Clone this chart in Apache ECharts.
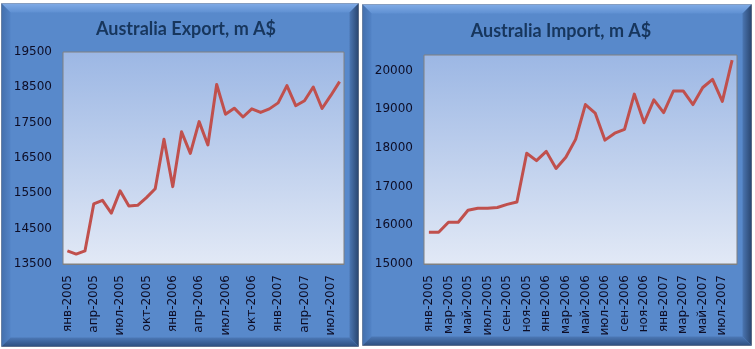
<!DOCTYPE html>
<html>
<head>
<meta charset="utf-8">
<script src="https://cdn.jsdelivr.net/npm/echarts@6/dist/echarts.min.js"></script>
<style>
  html, body { margin: 0; padding: 0; background: #ffffff; }
  #chart { width: 755px; height: 349px; }
</style>
</head>
<body>
<div id="chart"></div>
<script>
// Month abbreviations and the years covered (Jan 2005 – Aug 2007)
const monthNames = ['янв', 'фев', 'мар', 'апр', 'май', 'июн', 'июл', 'авг', 'сен', 'окт', 'ноя', 'дек'];
const years = [2005, 2006, 2007];
const lastMonthOf2007 = 8;

const categories = [];
years.forEach(function (y) {
  const count = y === 2007 ? lastMonthOf2007 : 12;
  for (let m = 0; m < count; m++) categories.push(monthNames[m] + '-' + y);
});

// Monthly exports, m A$
const exportValues = [
  13870, 13780, 13870, 15200, 15300, 14940, 15570, 15140, 15160, 15380, 15630, 17030,
  15690, 17240, 16630, 17530, 16870, 18580, 17740, 17910, 17660, 17890, 17790, 17890,
  18060, 18550, 17980, 18120, 18510, 17900, 18270, 18660
];

// Monthly imports, m A$
const importValues = [
  15820, 15820, 16080, 16080, 16390, 16440, 16440, 16460, 16540, 16600, 17860, 17670,
  17910, 17470, 17760, 18220, 19120, 18900, 18200, 18380, 18480, 19390, 18650, 19240,
  18910, 19470, 19470, 19120, 19560, 19770, 19200, 20270
];

// Axis tick settings (the import axis runs a little past its last labelled tick)
const exportTicks = { min: 13500, max: 19500, step: 1000 };
const importTicks = { min: 15000, max: 20400, step: 1000 };

const titles = ['Australia Export, m A$', 'Australia Import, m A$'];

// Bevelled blue panel behind each chart
function panel(x0, y0, x1, y1, b) {
  const face = '#5889CB';
  return [
    { type: 'rect', z: 0, shape: { x: x0, y: y0, width: x1 - x0, height: y1 - y0 },
      style: { fill: face, stroke: '#8a8f99', lineWidth: 1 } },
    { type: 'polygon', z: 1, shape: { points: [[x0, y0], [x1, y0], [x1 - b, y0 + b], [x0 + b, y0 + b]] },
      style: { fill: new echarts.graphic.LinearGradient(0, 0, 0, 1, [
        { offset: 0, color: '#80abe6' }, { offset: 1, color: '#5f90d2' }]) } },
    { type: 'polygon', z: 1, shape: { points: [[x0, y0], [x0 + b, y0 + b], [x0 + b, y1 - b], [x0, y1]] },
      style: { fill: new echarts.graphic.LinearGradient(0, 0, 1, 0, [
        { offset: 0, color: '#4470ad' }, { offset: 1, color: '#5283c6' }]) } },
    { type: 'polygon', z: 1, shape: { points: [[x1, y0], [x1, y1], [x1 - b, y1 - b], [x1 - b, y0 + b]] },
      style: { fill: new echarts.graphic.LinearGradient(1, 0, 0, 0, [
        { offset: 0, color: '#2a4670' }, { offset: 1, color: '#4b76b2' }]) } },
    { type: 'polygon', z: 1, shape: { points: [[x0, y1], [x1, y1], [x1 - b, y1 - b], [x0 + b, y1 - b]] },
      style: { fill: new echarts.graphic.LinearGradient(0, 1, 0, 0, [
        { offset: 0, color: '#2f5080' }, { offset: 1, color: '#4c78b6' }]) } }
  ];
}

const plotFill = {
  type: 'linear', x: 0, y: 0, x2: 0, y2: 1,
  colorStops: [{ offset: 0, color: '#9cb7e4' }, { offset: 1, color: '#e2e9f6' }]
};

const labelFont = { fontFamily: 'DejaVu Sans', fontSize: 12, color: '#0d0d26' };

function xAxisFor(gridIndex, every) {
  return {
    type: 'category', gridIndex: gridIndex, data: categories, boundaryGap: true,
    axisLine: { show: true, lineStyle: { color: '#808080' } },
    axisTick: { show: false },
    axisLabel: Object.assign({ rotate: 90, interval: every - 1, margin: 11 }, labelFont),
    splitLine: { show: false }
  };
}

function yAxisFor(gridIndex, t) {
  return {
    type: 'value', gridIndex: gridIndex, min: t.min, max: t.max, interval: t.step,
    axisLine: { show: false }, axisTick: { show: false },
    axisLabel: Object.assign({
      margin: 11,
      formatter: function (v) { return (v - t.min) % t.step === 0 ? String(v) : ''; }
    }, labelFont),
    splitLine: { show: true, lineStyle: { color: '#808080', width: 1 } }
  };
}

const chart = echarts.init(document.getElementById('chart'), null, { renderer: 'canvas' });

chart.setOption({
  animation: false,
  backgroundColor: '#ffffff',
  graphic: panel(1.5, 3.5, 358.5, 346.5, 9).concat(panel(362.5, 4.5, 751.5, 345.5, 9)),
  title: [
    { text: titles[0], left: 181, top: 15, textAlign: 'center',
      textStyle: { fontFamily: 'Lato', fontWeight: 'bold', fontSize: 18, color: '#17365d' } },
    { text: titles[1], left: 556, top: 17, textAlign: 'center',
      textStyle: { fontFamily: 'Lato', fontWeight: 'bold', fontSize: 18, color: '#17365d' } }
  ],
  grid: [
    { left: 63, top: 52, width: 281, height: 212, show: true, z: 2,
      backgroundColor: plotFill, borderColor: '#808080', borderWidth: 1 },
    { left: 424, top: 55, width: 313, height: 209, show: true, z: 2,
      backgroundColor: plotFill, borderColor: '#808080', borderWidth: 1 }
  ],
  xAxis: [xAxisFor(0, 3), xAxisFor(1, 2)],
  yAxis: [yAxisFor(0, exportTicks), yAxisFor(1, importTicks)],
  series: [
    { type: 'line', xAxisIndex: 0, yAxisIndex: 0, data: exportValues, symbol: 'none',
      lineStyle: { color: '#c0504d', width: 3, join: 'round' }, z: 5 },
    { type: 'line', xAxisIndex: 1, yAxisIndex: 1, data: importValues, symbol: 'none',
      lineStyle: { color: '#c0504d', width: 3, join: 'round' }, z: 5 }
  ]
});
</script>
</body>
</html>
